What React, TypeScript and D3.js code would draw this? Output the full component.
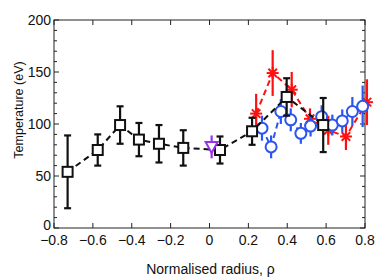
import React, { useEffect, useRef } from 'react';
import * as d3 from 'd3';

// black squares (dashed black line)
const blackRho = [-0.73, -0.575, -0.46, -0.363, -0.26, -0.135, 0.054, 0.219, 0.397, 0.585];
const blackTe = [54, 75, 99, 85, 81, 77, 75, 93, 126, 99];
const blackErr = [35, 15, 18, 16, 18, 17, 13, 13, 18, 26];

// red stars
const redRho = [0.24, 0.325, 0.423, 0.517, 0.611, 0.702, 0.81];
const redTe = [110, 149, 133, 105, 94, 88, 121];
const redErr = [19, 22, 17, 10, 14, 13, 22];

// blue circles
const blueRho = [0.27, 0.317, 0.367, 0.418, 0.47, 0.52, 0.577, 0.632, 0.683, 0.735, 0.788];
const blueTe = [96, 78, 112, 104, 91, 98, 107, 99, 103, 112, 117];
const blueErr = [12, 11, 12, 11, 10, 10, 11, 10, 11, 14, 20];

// purple triangle
const purpleRho = [0.011];
const purpleTe = [78];
const purpleErr = [11];

const xTicks = [-0.8, -0.6, -0.4, -0.2, 0, 0.2, 0.4, 0.6, 0.8];
const yTicks = [0, 50, 100, 150, 200];
const yMinor = d3.range(0, 201, 10);

const width = 382;
const height = 279;
const margin = { top: 20, right: 17, bottom: 51, left: 54 };

const App = () => {
  const svgRef = useRef(null);

  useEffect(() => {
    if (!svgRef.current) return;
    const svg = d3.select(svgRef.current);
    svg.selectAll('*').remove();

    const innerW = width - margin.left - margin.right;
    const innerH = height - margin.top - margin.bottom;
    const x = d3.scaleLinear().domain([-0.8, 0.8]).range([0, innerW]);
    const y = d3.scaleLinear().domain([0, 200]).range([innerH, 0]);
    const font = 'Liberation Sans, Arial, Helvetica, sans-serif';

    const g = svg.append('g').attr('transform', `translate(${margin.left},${margin.top})`);

    // frame
    g.append('rect').attr('x', 0).attr('y', 0).attr('width', innerW).attr('height', innerH)
      .attr('fill', 'none').attr('stroke', '#222').attr('stroke-width', 1);

    // ticks, inward on all four sides
    xTicks.forEach(t => {
      g.append('line').attr('x1', x(t)).attr('x2', x(t)).attr('y1', innerH).attr('y2', innerH - 5).attr('stroke', '#222');
      g.append('line').attr('x1', x(t)).attr('x2', x(t)).attr('y1', 0).attr('y2', 5).attr('stroke', '#222');
    });
    yMinor.forEach(t => {
      const len = t % 50 === 0 ? 5 : 3;
      g.append('line').attr('x1', 0).attr('x2', len).attr('y1', y(t)).attr('y2', y(t)).attr('stroke', '#222');
      g.append('line').attr('x1', innerW).attr('x2', innerW - len).attr('y1', y(t)).attr('y2', y(t)).attr('stroke', '#222');
    });

    g.selectAll('.xlab').data(xTicks).join('text').attr('class', 'xlab')
      .attr('x', d => x(d)).attr('y', innerH + 16.5).attr('text-anchor', 'middle')
      .attr('font-family', font).attr('font-size', 14).attr('fill', '#111')
      .text(d => d3.format('.1f')(d).replace('-', '\u2212').replace(/^0\.0$/, '0'));

    g.selectAll('.ylab').data(yTicks).join('text').attr('class', 'ylab')
      .attr('x', -3).attr('y', d => y(d) - (d === 0 ? 3 : 0)).attr('dy', '0.35em').attr('text-anchor', 'end')
      .attr('font-family', font).attr('font-size', 14).attr('fill', '#111')
      .text(d => d);

    svg.append('text').attr('x', margin.left + innerW / 2 + 1).attr('y', 274).attr('text-anchor', 'middle')
      .attr('font-family', font).attr('font-size', 14).attr('fill', '#111')
      .text('Normalised radius, \u03c1');

    svg.append('text').attr('transform', `translate(23,${margin.top + innerH / 2 - 14}) rotate(-90)`)
      .attr('text-anchor', 'middle').attr('font-family', font).attr('font-size', 12.5).attr('fill', '#111')
      .text('Temperature (eV)');

    const line = d3.line().x(d => x(d[0])).y(d => y(d[1]));
    const zip = (a, b, e) => a.map((v, i) => [v, b[i], e[i]]);

    const drawSeries = (pts, color, cap, marker) => {
      const s = g.append('g');
      s.append('path').attr('d', line(pts)).attr('fill', 'none').attr('stroke', color)
        .attr('stroke-width', 2).attr('stroke-dasharray', '6,4');
      pts.forEach(p => {
        const cx = x(p[0]);
        s.append('line').attr('x1', cx).attr('x2', cx).attr('y1', y(p[1] - p[2])).attr('y2', y(p[1] + p[2]))
          .attr('stroke', color).attr('stroke-width', 2.2);
        if (cap) {
          [p[1] - p[2], p[1] + p[2]].forEach(v => {
            s.append('line').attr('x1', cx - 3.5).attr('x2', cx + 3.5).attr('y1', y(v)).attr('y2', y(v))
              .attr('stroke', color).attr('stroke-width', 2.2);
          });
        }
      });
      pts.forEach(p => marker(s, x(p[0]), y(p[1])));
    };

    drawSeries(zip(redRho, redTe, redErr), '#ff1010', false, (s, cx, cy) => {
      d3.range(4).forEach(k => {
        const a = (k * Math.PI) / 4;
        const r = 6;
        s.append('line').attr('x1', cx - r * Math.cos(a)).attr('x2', cx + r * Math.cos(a))
          .attr('y1', cy - r * Math.sin(a)).attr('y2', cy + r * Math.sin(a))
          .attr('stroke', '#ff1010').attr('stroke-width', 2);
      });
    });

    drawSeries(zip(blueRho, blueTe, blueErr), '#2a55f0', false, (s, cx, cy) => {
      s.append('circle').attr('cx', cx).attr('cy', cy).attr('r', 5.5)
        .attr('fill', 'white').attr('stroke', '#2a55f0').attr('stroke-width', 2);
    });

    drawSeries(zip(blackRho, blackTe, blackErr), '#111', true, (s, cx, cy) => {
      s.append('rect').attr('x', cx - 5).attr('y', cy - 5).attr('width', 10).attr('height', 10)
        .attr('fill', 'white').attr('stroke', '#111').attr('stroke-width', 2);
    });

    drawSeries(zip(purpleRho, purpleTe, purpleErr), '#9b30f0', false, (s, cx, cy) => {
      s.append('path').attr('d', `M${cx - 6},${cy - 5} L${cx + 6},${cy - 5} L${cx},${cy + 6} Z`)
        .attr('fill', 'white').attr('stroke', '#9b30f0').attr('stroke-width', 2);
    });
  }, []);

  return (
    <div style={{ position: 'fixed', left: 0, top: 0, background: 'white' }}>
      <svg ref={svgRef} width={width} height={height} style={{ display: 'block' }} />
    </div>
  );
};

export default App;
